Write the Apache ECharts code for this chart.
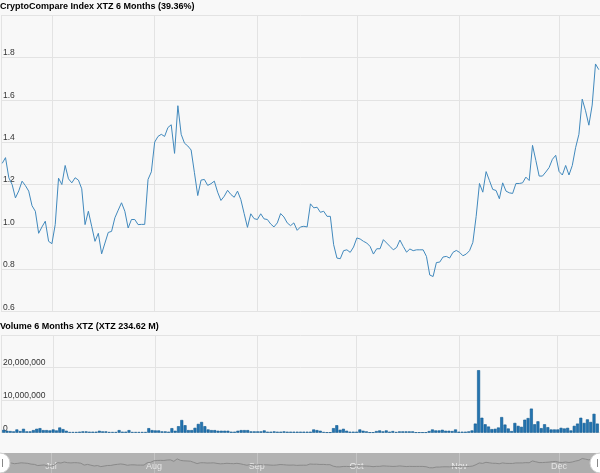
<!DOCTYPE html>
<html>
<head>
<meta charset="utf-8">
<script src="https://cdn.jsdelivr.net/npm/echarts@6/dist/echarts.min.js"></script>
<style>
html,body{margin:0;padding:0;background:#f8f8f8;}
#chart{width:600px;height:473px;}
</style>
</head>
<body>
<div id="chart"></div>
<script>
// ---- data ----
const monthNames = ['Jan','Feb','Mar','Apr','May','Jun','Jul','Aug','Sep','Oct','Nov','Dec'];
const startDay = [2019, 5, 16]; // 16 Jun, daily points
const priceTitle = 'CryptoCompare Index XTZ 6 Months (39.36%)';
const volumeTitle = 'Volume 6 Months XTZ (XTZ 234.62 M)';
const priceTicks = [0.6, 0.8, 1.0, 1.2, 1.4, 1.6, 1.8];
const volumeTicks = [0, 10000000, 20000000];

const priceValues = [
1.30,1.327,1.232,1.20,1.137,1.17,1.216,1.195,1.169,1.10,
1.074,0.97,1.00,1.027,0.932,0.921,1.011,1.23,1.20,1.29,
1.227,1.208,1.232,1.221,1.18,1.011,1.074,1.003,0.932,0.97,
0.873,0.924,0.974,0.979,1.043,1.079,1.114,1.074,0.995,1.035,
1.035,1.011,1.012,1.012,1.224,1.26,1.40,1.427,1.437,1.427,
1.469,1.482,1.347,1.572,1.437,1.395,1.382,1.363,1.256,1.148,
1.221,1.224,1.196,1.204,1.216,1.164,1.125,1.145,1.173,1.153,
1.140,1.169,1.129,1.063,0.998,1.062,1.039,1.035,1.062,1.038,
1.035,1.014,1.0,1.019,1.063,1.047,1.019,1.006,1.019,0.984,
1.0,1.003,1.0,1.109,1.09,1.093,1.069,1.074,1.05,1.05,
0.916,0.853,0.85,0.888,0.892,0.88,0.905,0.948,0.943,0.932,
0.924,0.908,0.872,0.897,0.897,0.94,0.924,0.908,0.892,0.903,
0.938,0.908,0.881,0.896,0.888,0.892,0.892,0.892,0.861,0.773,
0.766,0.832,0.834,0.858,0.861,0.853,0.88,0.889,0.88,0.864,
0.872,0.888,0.927,1.05,1.205,1.164,1.261,1.219,1.177,1.172,
1.133,1.208,1.169,1.161,1.158,1.205,1.205,1.208,1.235,1.219,
1.385,1.314,1.24,1.24,1.259,1.28,1.319,1.338,1.262,1.245,
1.29,1.245,1.29,1.374,1.437,1.603,1.548,1.48,1.575,1.769,
1.742
];

// daily volume, millions of XTZ
const volumeMillions = [
0.9,0.6,0.5,0.4,1.0,0.5,1.2,0.4,0.4,0.8,
1.2,1.4,0.8,0.8,0.7,1.0,0.7,1.6,1.1,0.6,
0.2,0.2,0.2,0.3,0.4,0.4,0.3,0.3,0.3,0.6,
0.4,0.4,0.2,0.2,0.2,0.8,0.3,0.3,0.8,0.2,
0.2,0.2,0.2,0.2,1.4,0.8,0.7,0.7,0.4,0.4,
0.3,1.4,0.6,2.0,3.9,2.3,0.8,0.8,1.5,2.7,
3.3,2.0,1.0,0.8,0.8,0.6,0.6,0.6,0.6,0.3,
0.3,0.6,0.8,0.8,0.8,0.4,0.4,0.4,0.4,0.7,
0.3,0.3,0.4,0.3,0.3,0.4,0.3,0.3,0.3,0.3,
0.3,0.3,0.3,0.3,1.0,0.8,0.6,0.2,0.1,0.1,
1.4,2.3,0.9,1.2,0.6,0.3,0.3,0.3,1.0,0.6,
0.4,0.1,0.1,0.5,0.7,0.4,0.7,0.3,0.5,0.2,
0.4,0.4,0.4,0.4,0.4,0.1,0.1,0.1,0.1,0.5,
1.0,0.7,0.7,0.9,0.6,0.6,0.5,1.0,0.3,0.3,
0.3,0.4,0.7,2.8,19.2,4.6,2.6,1.9,1.1,1.2,
1.6,4.8,2.5,1.3,0.5,3.0,2.1,1.8,4.0,4.5,
7.4,2.6,3.5,1.4,2.6,1.7,1.0,1.0,1.0,1.5,
1.3,1.5,0.7,2.1,2.8,4.6,3.0,4.1,3.3,5.8,
2.8
];

// ---- build ----
const DAY = 86400000;
const t0 = new Date(startDay[0], startDay[1], startDay[2]).getTime();
const dates = priceValues.map((_, i) => t0 + i * DAY);
const xMin = t0 - 0.36 * DAY;
const xMax = xMin + 180.72 * DAY;

const priceData = dates.map((d, i) => [d, priceValues[i]]);
const volumeData = dates.map((d, i) => [d, volumeMillions[i] * 1e6]);

const gridLine = { show: true, lineStyle: { color: '#e3e3e3', width: 1 } };
const font = '"Liberation Sans", Arial, sans-serif';

function timeAxis(gridIndex, extra) {
  return Object.assign({
    type: 'time', gridIndex, min: xMin, max: xMax, splitNumber: 6,
    axisLine: { show: false }, axisTick: { show: false },
    axisLabel: { show: false }, splitLine: gridLine
  }, extra || {});
}

const chart = echarts.init(document.getElementById('chart'), null, { renderer: 'canvas' });
chart.setOption({
  animation: false,
  backgroundColor: '#f8f8f8',
  textStyle: { fontFamily: font },
  title: [
    { text: priceTitle, left: 0, top: 2, padding: 0,
      textStyle: { fontSize: 9, fontWeight: 'bold', color: '#000', fontFamily: font } },
    { text: volumeTitle, left: 0, top: 322, padding: 0,
      textStyle: { fontSize: 9, fontWeight: 'bold', color: '#000', fontFamily: font } }
  ],
  grid: [
    { left: 0, right: 0, top: 15, height: 296.7 },
    { left: 0, right: 0, top: 335, height: 97.7 },
    { left: 0, right: 0, top: 453, height: 20, show: true, backgroundColor: '#b2b2b2', borderWidth: 0 }
  ],
  xAxis: [
    timeAxis(0),
    timeAxis(1),
    timeAxis(2, {
      splitLine: { show: true, lineStyle: { color: '#c4c4c4', width: 1 } },
      axisLabel: {
        show: true, inside: true, margin: 2, fontSize: 9, color: '#ececec', fontFamily: font,
        formatter: v => monthNames[new Date(v).getMonth()]
      }
    })
  ],
  yAxis: [
    { type: 'value', gridIndex: 0, min: priceTicks[0], max: 2.0, interval: 0.2,
      axisLine: { show: false }, axisTick: { show: false }, splitLine: gridLine,
      axisLabel: { inside: true, margin: 2, verticalAlign: 'bottom', fontSize: 8.5, color: '#333',
        fontFamily: font, showMaxLabel: false, formatter: v => v.toFixed(1) } },
    { type: 'value', gridIndex: 1, min: volumeTicks[0], max: 30000000, interval: 10000000,
      axisLine: { show: false }, axisTick: { show: false }, splitLine: gridLine,
      axisLabel: { inside: true, margin: 2, verticalAlign: 'bottom', fontSize: 8.5, color: '#333',
        fontFamily: font, showMaxLabel: false, formatter: v => v.toLocaleString('en-US') } },
    { type: 'value', gridIndex: 2, min: 0.3, max: 2.1, show: false, splitLine: { show: false } }
  ],
  series: [
    { type: 'line', xAxisIndex: 0, yAxisIndex: 0, data: priceData, showSymbol: false,
      lineStyle: { color: '#4189bd', width: 1 }, itemStyle: { color: '#4189bd' } },
    { type: 'bar', xAxisIndex: 1, yAxisIndex: 1, data: volumeData, barWidth: 3,
      itemStyle: { color: '#2474b0', borderColor: '#0f5b92', borderWidth: 0.6 } },
    { type: 'line', xAxisIndex: 2, yAxisIndex: 2, data: priceData, showSymbol: false,
      lineStyle: { color: '#8a8a8a', width: 1 }, areaStyle: { color: 'rgba(0,0,0,0.04)' } }
  ],
  graphic: [
    { type: 'circle', shape: { cx: 0, cy: 463, r: 10 }, style: { fill: '#fff', stroke: '#cfcfcf' }, z: 100 },
    { type: 'rect', shape: { x: 2, y: 459, width: 1, height: 8 }, style: { fill: '#888' }, z: 101 },
    { type: 'circle', shape: { cx: 600, cy: 463, r: 10 }, style: { fill: '#fff', stroke: '#cfcfcf' }, z: 100 },
    { type: 'rect', shape: { x: 597, y: 459, width: 1, height: 8 }, style: { fill: '#888' }, z: 101 }
  ]
});
</script>
</body>
</html>
